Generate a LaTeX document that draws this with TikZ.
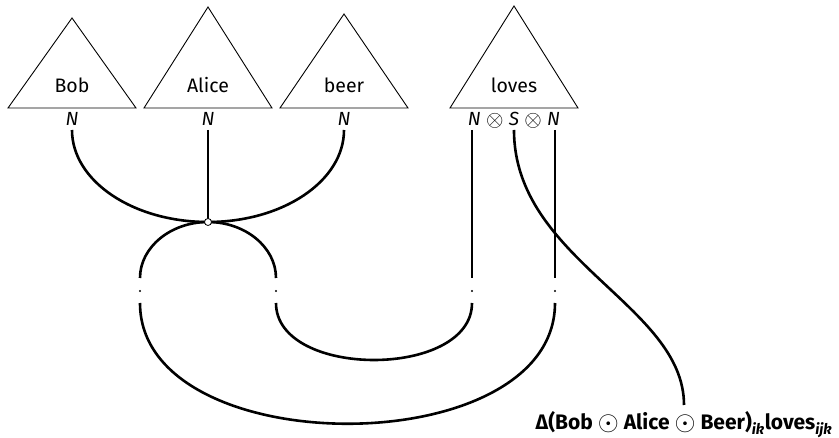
\documentclass[tikz,border=0pt]{standalone}
\usepackage{graphicx}
\usepackage{fontspec}
\setmainfont{Fira Sans}
\newcommand{\myotimes}{\raisebox{-0.5pt}{\scalebox{1.3}{$\otimes$}}}
\newcommand{\myodot}{\raisebox{-1pt}{\scalebox{1.3}{$\odot$}}}
\begin{document}
\begin{tikzpicture}[x=1pt,y=-1pt,
  box/.style={draw, line width=0.9pt, line join=miter},
  wire/.style={line width=2.6pt},
  word/.style={font=\fontsize{19.5}{22}\selectfont, inner sep=0pt, anchor=base},
  typ/.style={font=\fontsize{19}{22}\selectfont\itshape, inner sep=0pt, anchor=base},
  gap/.style={circle, fill, inner sep=0pt, minimum size=2.2pt},
  spider/.style={circle, draw, fill=white, line width=0.8pt, inner sep=0pt, minimum size=7pt},
  result/.style={font=\fontsize{21}{24}\selectfont\bfseries, inner sep=0pt, anchor=base}]
\path[use as bounding box] (0,0) rectangle (839,438);
% boxes (triangles)
\draw[box] (8,108) -- (72,18) -- (136,108) -- cycle;
\draw[box] (144,108) -- (208,7) -- (272,108) -- cycle;
\draw[box] (280,108) -- (344,14) -- (408,108) -- cycle;
\draw[box] (450,108) -- (514,6) -- (578,108) -- cycle;
% words
\node[word] (bob) at (72,93) {Bob};
\node[word] (alice) at (208,93) {Alice};
\node[word] (beer) at (344,93) {beer};
\node[word] (loves) at (514,93) {loves};
% types
\node[typ] (tbob) at (72,126) {N};
\node[typ] (talice) at (208,126) {N};
\node[typ] (tbeer) at (344,126) {N};
\node[typ] (tloves) at (514,126) {N\;\myotimes\;S\;\myotimes\;N};
% wire end points
\coordinate (bobN) at (72,130);
\coordinate (aliceN) at (208,130);
\coordinate (beerN) at (344,130);
\coordinate (lovesL) at (472,130);
\coordinate (lovesS) at (514,130);
\coordinate (lovesR) at (555,130);
\coordinate (sp) at (208,222);
\coordinate (g1a) at (140,278);
\coordinate (g1b) at (140,303);
\coordinate (g2a) at (276,278);
\coordinate (g2b) at (276,303);
\coordinate (g3a) at (472,278);
\coordinate (g3b) at (472,303);
\coordinate (g4a) at (555,278);
\coordinate (g4b) at (555,303);
\node[result] (res) at (684,430) {Δ(Bob \myodot{} Alice \myodot{} Beer)\textsubscript{\itshape ik}loves\textsubscript{\itshape ijk}};
\coordinate (resN) at (684,405);
% gaps
\node[gap] (d1) at (140,291) {};
\node[gap] (d2) at (276,291) {};
\node[gap] (d3) at (472,291) {};
\node[gap] (d4) at (555,291) {};
% wires
\draw[wire] (bobN) .. controls (72,181) and (133,222) .. (sp);
\draw[wire] (beerN) .. controls (344,181) and (283,222) .. (sp);
\draw[wire] (aliceN) -- (sp);
\draw[wire] (sp) .. controls (171,222) and (140,247) .. (g1a);
\draw[wire] (sp) .. controls (245,222) and (276,247) .. (g2a);
\draw[wire] (lovesL) -- (g3a);
\draw[wire] (lovesR) -- (g4a);
\draw[wire] (g2b) .. controls (276,379) and (472,379) .. (g3b);
\draw[wire] (g1b) .. controls (140,464) and (555,464) .. (g4b);
\draw[wire] (lovesS) .. controls (514,260) and (684,305) .. (resN);
\node[spider] (spider) at (sp) {};
\end{tikzpicture}
\end{document}
